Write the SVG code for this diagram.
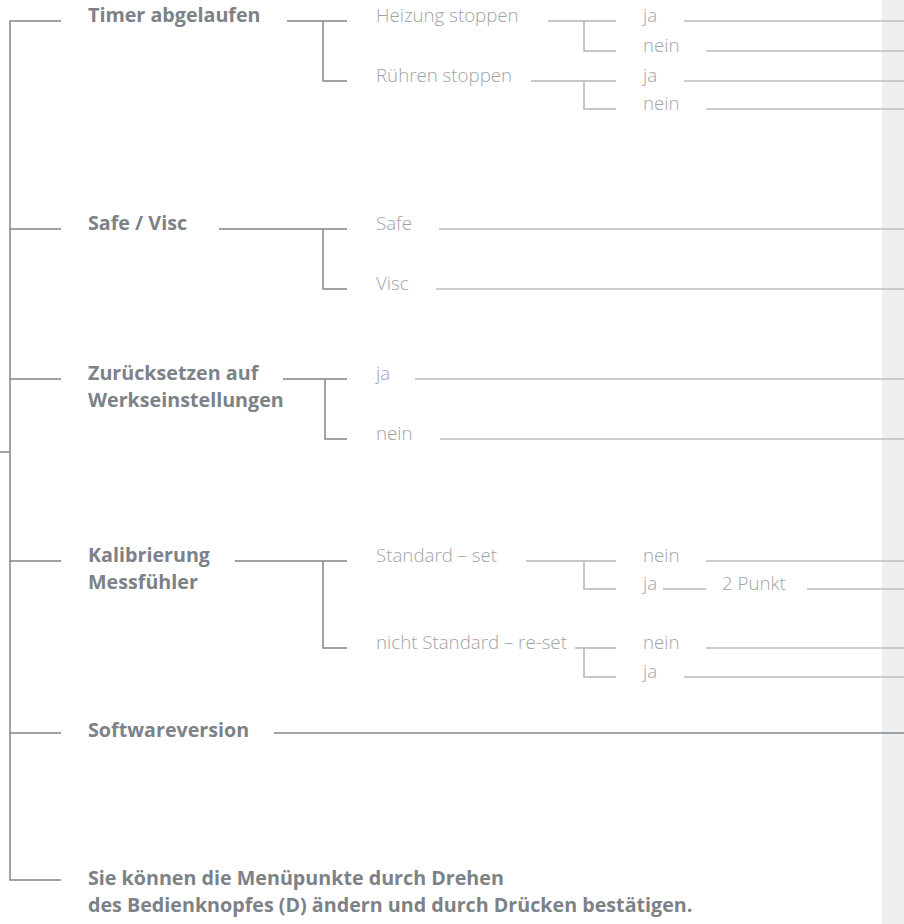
<svg xmlns="http://www.w3.org/2000/svg" width="904" height="924" viewBox="0 0 904 924">
<style>
.b{font-family:"Open Sans","Liberation Sans",sans-serif;font-weight:700;font-size:19.7px;fill:#7c8287}
.l{font-family:"Open Sans","Liberation Sans",sans-serif;font-weight:300;font-size:18.7px;fill:#9ea3a8}
.d{stroke:#80878c;stroke-width:1.5;fill:none}
.m{stroke:#b2b7bb;stroke-width:1.5;fill:none}
.r{stroke:#babec2;stroke-width:1.5;fill:none}
</style>
<rect x="882" y="0" width="22" height="924" fill="#eeeff1"/>
<g id="connectors">
  <path class="d" d="M0 452H10M61 21H10V880H61M10 229H61M10 379H61M10 561H61M10 733H61"/>
  <path class="d" d="M287 21H347M323 21V81H347"/>
  <path class="d" d="M219 229H347M323 229V289H347"/>
  <path class="d" d="M283 379H347M325 379V439H347"/>
  <path class="d" d="M235 561H347M323 561V648H347"/>
  <path class="d" d="M274 733H904"/>
  <path class="m" d="M548 21H616M584 21V51H616"/>
  <path class="m" d="M531 81H616M584 81V109H616"/>
  <path class="m" d="M526 561H616M584 561V589H616"/>
  <path class="m" d="M575 648H616M584 648V677H616"/>
  <path class="m" d="M663 589H706"/>
  <path class="r" d="M684 21H904M706 51H904M684 81H904M706 109H904"/>
  <path class="r" d="M439 229H904M436 289H904"/>
  <path class="r" d="M415 379H904M440 439H904"/>
  <path class="r" d="M706 561H904M807 589H904M706 648H904M684 677H904"/>
</g>
<g id="timer"><text class="b" x="88" y="22">Timer abgelaufen</text></g>
<g id="heizung"><text class="l" x="376" y="22">Heizung stoppen</text></g>
<g id="heizung-ja"><text class="l" x="643" y="22">ja</text></g>
<g id="heizung-nein"><text class="l" x="643" y="52">nein</text></g>
<g id="ruehren"><text class="l" x="376" y="82">Rühren stoppen</text></g>
<g id="ruehren-ja"><text class="l" x="643" y="82">ja</text></g>
<g id="ruehren-nein"><text class="l" x="643" y="110">nein</text></g>
<g id="safevisc"><text class="b" x="88" y="230">Safe / Visc</text></g>
<g id="safe"><text class="l" x="376" y="230">Safe</text></g>
<g id="visc"><text class="l" x="376" y="290">Visc</text></g>
<g id="reset"><text class="b" x="88" y="380">Zurücksetzen auf</text><text class="b" x="88" y="407">Werkseinstellungen</text></g>
<g id="reset-ja"><text class="l" x="376" y="380">ja</text></g>
<g id="reset-nein"><text class="l" x="376" y="440">nein</text></g>
<g id="kalib"><text class="b" x="88" y="562">Kalibrierung</text><text class="b" x="88" y="589">Messfühler</text></g>
<g id="standard"><text class="l" x="376" y="562">Standard – set</text></g>
<g id="standard-nein"><text class="l" x="643" y="562">nein</text></g>
<g id="standard-ja"><text class="l" x="643" y="590">ja</text></g>
<g id="zweipunkt"><text class="l" x="722" y="590">2 Punkt</text></g>
<g id="nichtstandard"><text class="l" x="376" y="649">nicht Standard – re-set</text></g>
<g id="nichtstandard-nein"><text class="l" x="643" y="649">nein</text></g>
<g id="nichtstandard-ja"><text class="l" x="643" y="678">ja</text></g>
<g id="software"><text class="b" x="88" y="737">Softwareversion</text></g>
<g id="hinweis"><text class="b" x="88" y="885">Sie können die Menüpunkte durch Drehen</text><text class="b" x="88" y="912">des Bedienknopfes (D) ändern und durch Drücken bestätigen.</text></g>
</svg>
